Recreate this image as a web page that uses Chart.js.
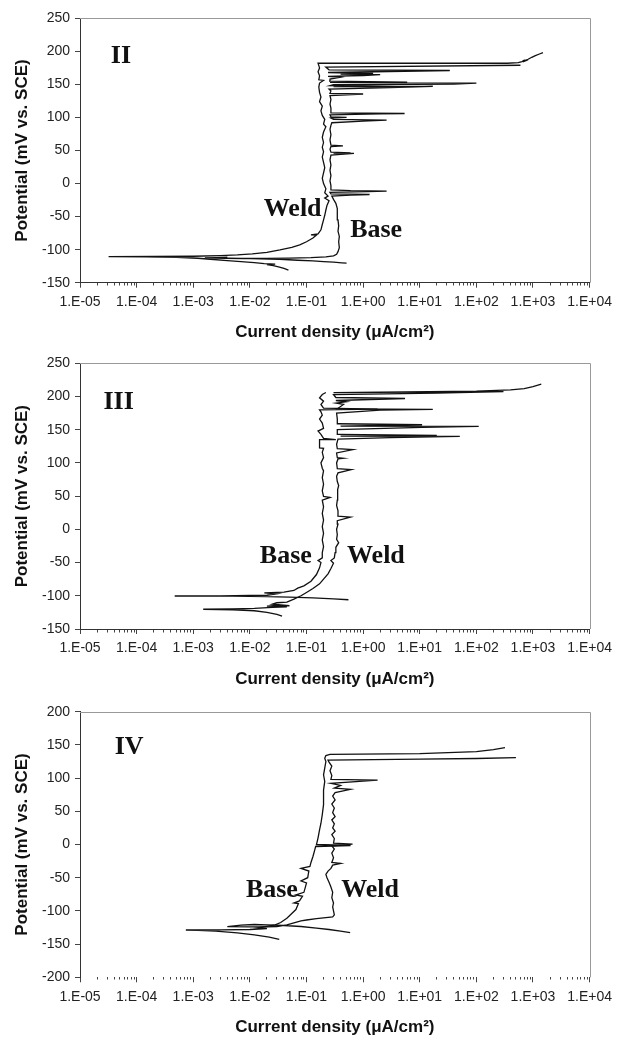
<!DOCTYPE html>
<html>
<head>
<meta charset="utf-8">
<script src="https://cdn.jsdelivr.net/npm/chart.js@4.4.1/dist/chart.umd.min.js"></script>
<style>
  body { margin: 0; background: #fff; }
  canvas { position: absolute; left: 0; }
</style>
</head>
<body>
<canvas id="c2" width="618" height="345" style="top:0px"></canvas>
<canvas id="c3" width="618" height="346" style="top:345px"></canvas>
<canvas id="c4" width="618" height="346" style="top:691px"></canvas>
<script>
// current density (uA/cm2), potential (mV vs SCE)
const decadeLabels = ['1.E-05', '1.E-04', '1.E-03', '1.E-02', '1.E-01', '1.E+00', '1.E+01', '1.E+02', '1.E+03', '1.E+04'];

// panel II
const weldII = [
  [0.048,-131],[0.04,-128.5],[0.032,-126],[0.026,-124],[0.02,-122.5],[0.028,-122],[0.018,-121],[0.012,-119.5],
  [0.007,-118],[0.004,-116.5],[0.002,-114.5],[0.0012,-113],[0.0005,-111.5],[0.00015,-110.8],[0.000032,-110.5],
  [0.0002,-110.4],[0.001,-110],[0.003,-109],[0.006,-108],[0.011,-106.4],[0.02,-104],[0.034,-100.3],[0.055,-96.5],
  [0.076,-92.7],[0.1,-88],[0.13,-82.5],[0.15,-78],[0.12,-77.5],[0.16,-76],[0.18,-70],[0.19,-62],[0.2,-55],
  [0.21,-48],[0.22,-40],[0.23,-33],[0.25,-26],[0.21,-22],[0.24,-19],[0.21,-14],[0.22,-8],[0.2,0],[0.19,8],
  [0.2,16],[0.21,24],[0.2,32],[0.19,40],[0.2,48],[0.19,55],[0.2,62],[0.19,70],[0.2,78],[0.22,86],[0.2,90],
  [0.21,97],[0.19,103],[0.18,110],[0.19,117],[0.17,124],[0.18,131],[0.17,138],[0.165,146],[0.17,152],[0.2,156],
  [0.165,157],[0.17,163],[0.16,169],[0.17,175],[0.16,182],[5,182],[100,182],[350,182],[550,183],[640,184.5],
  [700,186.5],[760,186],[660,184],[820,188],[950,191],[1100,193.5],[1300,196],[1500,198]
];
const baseII = [
  [0.51,-120.5],[0.42,-120],[0.3,-119],[0.2,-118],[0.13,-117],[0.07,-116],[0.034,-114.5],[0.015,-113.8],
  [0.007,-113.2],[0.004,-112.8],[0.0016,-112.3],[0.004,-111.8],[0.0018,-112.6],[0.0035,-113.2],[0.008,-113.4],
  [0.02,-113.2],[0.05,-112.8],[0.12,-112.2],[0.22,-111],[0.3,-109.4],[0.34,-107],[0.36,-103],[0.38,-97],
  [0.37,-88],[0.38,-80],[0.36,-72],[0.37,-64],[0.36,-55],[0.35,-46],[0.35,-38],[0.33,-30],[0.3,-24],[0.28,-19],
  [0.6,-17.5],[1.3,-16.6],[0.27,-15.5],[0.26,-13.5],[1.2,-12.2],[2.6,-11.6],[0.6,-10.8],[0.27,-9.5],[0.27,-3],
  [0.26,4],[0.27,12],[0.26,20],[0.27,28],[0.26,36],[0.27,43],[0.69,45.5],[0.3,46],[0.6,46.5],[0.27,47.5],
  [0.26,52],[0.27,56],[0.44,57],[0.27,58],[0.26,66],[0.27,74],[0.26,82],[0.27,88],[0.28,92],[1.0,94.5],
  [2.6,96],[0.3,97],[0.27,99],[0.51,100],[0.27,101],[0.26,104],[2,105.5],[5.4,106],[0.27,107],[0.27,114],
  [0.26,120],[0.27,127],[0.26,133],[1.0,135.5],[0.26,136.5],[0.27,140],[0.25,143],[3,145],[17,147],[0.3,146.5],
  [8,146.2],[0.26,148],[0.3,149.5],[40,150.5],[100,152],[0.26,153],[6,153.5],[0.25,155],[0.26,158],[0.39,160.8],
  [0.24,162],[1,163.5],[2,164.8],[0.4,165.5],[1.5,166.5],[0.24,168],[34,171],[0.25,172],[0.22,176],[600,179]
];

// panel III
const weldIII = [
  [0.037,-130.5],[0.03,-128],[0.02,-125],[0.012,-122.5],[0.005,-121],[0.0015,-120.3],[0.005,-119.8],[0.012,-119],
  [0.025,-117.5],[0.045,-116.5],[0.02,-115.5],[0.035,-114],[0.05,-115],[0.025,-112.5],[0.03,-110.5],[0.045,-109.5],
  [0.06,-105],[0.08,-100],[0.1,-95],[0.13,-89],[0.17,-82],[0.2,-75],[0.24,-67],[0.27,-59],[0.3,-51],[0.27,-47],
  [0.31,-43],[0.32,-35],[0.33,-27],[0.37,-20],[0.34,-15],[0.35,-8],[0.34,0],[0.36,8],[0.35,13],[0.6,18.5],
  [0.35,20],[0.36,28],[0.34,36],[0.35,44],[0.36,52],[0.35,60],[0.37,66],[0.35,72],[0.34,80],[0.36,85],[0.62,90],
  [0.35,91.5],[0.34,100],[0.36,106],[0.45,107],[0.35,108],[0.34,115],[0.66,120],[0.35,121.5],[0.34,128],
  [0.36,136],[3,138],[51,140],[0.4,140.5],[20,141.5],[0.36,143],[0.35,150],[11,153.5],[110,155],[0.4,155.5],
  [11,157.5],[0.36,159],[0.35,166],[0.34,175],[2,179.5],[17,180.5],[0.35,181.5],[0.45,188],[0.33,190],[0.5,192],
  [0.33,194],[5.5,197],[0.33,198.5],[0.3,203],[20,205],[300,207.5],[0.3,206],[100,208],[400,210],[700,212],
  [1000,215],[1400,218.5]
];
const baseIII = [
  [0.55,-106],[0.3,-104.5],[0.13,-103],[0.05,-102],[0.02,-101.2],[0.005,-100.6],[0.00047,-100.3],[0.003,-100],
  [0.01,-99.6],[0.02,-99.2],[0.03,-97],[0.018,-95.5],[0.04,-94.5],[0.06,-92],[0.07,-88.5],[0.09,-85],[0.12,-78],
  [0.15,-68],[0.17,-58],[0.18,-50],[0.16,-47],[0.19,-43],[0.19,-35],[0.2,-26],[0.19,-16],[0.2,-6],[0.19,4],
  [0.2,14],[0.19,24],[0.2,34],[0.19,44],[0.26,48],[0.2,49.5],[0.19,58],[0.2,68],[0.19,78],[0.2,88],[0.19,92],
  [0.18,100],[0.2,108],[0.19,116],[0.2,122],[0.17,122.5],[0.17,135],[0.33,135],[0.2,137],[0.18,143],[0.16,148],
  [0.2,152],[0.19,160],[0.17,166],[0.19,172],[0.18,177],[0.17,180],[1.8,181],[0.2,182.5],[0.18,188],[0.2,193],
  [0.17,198],[0.19,203],[0.22,206]
];

// panel IV
const weldIV = [
  [0.59,-132.8],[0.4,-130.5],[0.25,-128],[0.15,-126],[0.08,-123.5],[0.04,-122],[0.02,-121],[0.012,-120.5],
  [0.007,-121.5],[0.004,-123.8],[0.01,-124],[0.02,-124.2],[0.03,-123.5],[0.045,-121],[0.06,-118],[0.08,-115],
  [0.1,-113.7],[0.15,-111.5],[0.22,-110],[0.29,-109],[0.31,-106],[0.3,-100],[0.29,-94],[0.3,-88],[0.28,-80],
  [0.29,-72],[0.27,-64],[0.25,-57],[0.23,-50],[0.22,-45],[0.24,-40],[0.27,-36],[0.29,-31],[0.4,-28.5],[0.28,-27],
  [0.3,-20],[0.28,-13],[0.31,-7],[0.28,-2],[0.65,0.5],[0.3,2],[0.31,9],[0.28,15],[0.32,20],[0.29,25],[0.31,31],
  [0.28,37],[0.32,42],[0.29,48],[0.31,55],[0.28,61],[0.32,67],[0.29,73],[0.32,78],[0.6,83],[0.31,85],[0.4,89],
  [0.27,92],[1.8,97],[0.27,98],[0.28,104],[0.26,111],[0.28,118],[0.25,124],[0.24,127],[10,128.5],[100,129.5],
  [500,130.7]
];
const baseIV = [
  [0.033,-142.8],[0.022,-139.5],[0.012,-136],[0.006,-133],[0.0025,-130.5],[0.0012,-129.3],[0.00074,-128.8],
  [0.003,-128.6],[0.01,-128],[0.02,-126.5],[0.014,-125.5],[0.028,-121],[0.035,-117.5],[0.045,-111],[0.055,-104],
  [0.065,-98],[0.072,-89],[0.06,-88],[0.075,-85],[0.085,-78],[0.065,-76],[0.09,-72],[0.095,-65],[0.1,-58],
  [0.08,-55],[0.105,-50],[0.11,-40],[0.08,-36],[0.115,-33],[0.12,-27],[0.13,-18],[0.14,-8],[0.145,-3],[0.6,-1.5],
  [0.15,0],[0.16,10],[0.17,22],[0.18,32],[0.19,45],[0.2,60],[0.2,82],[0.21,95],[0.2,105],[0.21,115],[0.22,125],
  [0.21,130],[0.22,134],[0.26,135.8],[10,137],[100,140],[200,143],[320,146]
];

// text labels, placed in data units
const notesII = [
  {text: 'II', x: 3.5e-5, y: 182, size: 26},
  {text: 'Weld', x: 0.0176, y: -49, size: 26},
  {text: 'Base', x: 0.59, y: -81, size: 26}
];
const notesIII = [
  {text: 'III', x: 2.6e-5, y: 181, size: 26},
  {text: 'Base', x: 0.015, y: -51, size: 26},
  {text: 'Weld', x: 0.52, y: -51, size: 26}
];
const notesIV = [
  {text: 'IV', x: 4.1e-5, y: 136, size: 26},
  {text: 'Base', x: 0.0085, y: -79, size: 26},
  {text: 'Weld', x: 0.41, y: -79, size: 26}
];

const tickValues = [];
for (let e = -5; e < 4; e++) {
  for (let k = 1; k < 10; k++) tickValues.push(k * Math.pow(10, e));
}
tickValues.push(1e4);

function isDecade(v) {
  const l = Math.log10(v);
  return Math.abs(l - Math.round(l)) < 1e-6;
}

const framePlugin = {
  id: 'frame',
  afterDraw(chart, args, opts) {
    const {ctx, chartArea: a, scales} = chart;
    ctx.save();
    ctx.strokeStyle = '#999';
    ctx.lineWidth = 1;
    ctx.beginPath();
    ctx.moveTo(a.left, Math.round(a.top) + 0.5);
    ctx.lineTo(Math.round(a.right) + 0.5, Math.round(a.top) + 0.5);
    ctx.lineTo(Math.round(a.right) + 0.5, a.bottom);
    ctx.stroke();
    ctx.fillStyle = '#111';
    ctx.textAlign = 'left';
    ctx.textBaseline = 'alphabetic';
    opts.notes.forEach(n => {
      ctx.font = 'bold ' + n.size + 'px "Liberation Serif", "Times New Roman", serif';
      ctx.fillText(n.text, scales.x.getPixelForValue(n.x), scales.y.getPixelForValue(n.y));
    });
    ctx.restore();
  }
};

function makePanel(id, weld, base, yMin, yMax, notes, padTop, xHeight, bottomLine) {
  const line = pts => ({
    data: pts.map(p => ({x: p[0], y: p[1]})),
    showLine: true,
    pointRadius: 0,
    borderColor: '#111',
    borderWidth: 1.3,
    tension: 0
  });
  return new Chart(document.getElementById(id), {
    type: 'scatter',
    data: { datasets: [line(weld), line(base)] },
    options: {
      responsive: false,
      animation: false,
      devicePixelRatio: 1,
      layout: { padding: { top: padTop, right: 25, left: 0, bottom: 0 } },
      plugins: {
        legend: { display: false },
        tooltip: { enabled: false },
        frame: { notes: notes }
      },
      scales: {
        x: {
          type: 'logarithmic',
          min: 1e-5,
          max: 1e4,
          afterBuildTicks: s => { s.ticks = tickValues.map(v => ({value: v})); },
          afterFit: s => { s.height = xHeight; },
          ticks: {
            autoSkip: false,
            maxRotation: 0,
            minRotation: 0,
            padding: 6,
            color: '#222',
            font: { family: 'Liberation Sans', size: 14 },
            callback: v => isDecade(v) ? decadeLabels[Math.round(Math.log10(v)) + 5] : ''
          },
          grid: {
            drawOnChartArea: false,
            drawTicks: true,
            tickLength: 5,
            tickColor: '#444',
            tickBorderDash: c => (c.tick && isDecade(c.tick.value)) ? [] : [2.5, 10]
          },
          border: { display: bottomLine, color: '#333', width: 1 },
          title: {
            display: true,
            text: 'Current density (μA/cm²)',
            color: '#111',
            font: { family: 'Liberation Sans', size: 17, weight: 'bold' },
            padding: { top: 0, bottom: xHeight - 60.2 }
          }
        },
        y: {
          min: yMin,
          max: yMax,
          afterFit: s => { s.width = 80; },
          ticks: {
            stepSize: 50,
            padding: 5,
            color: '#222',
            font: { family: 'Liberation Sans', size: 14 }
          },
          grid: {
            drawOnChartArea: false,
            drawTicks: true,
            tickLength: 5,
            tickColor: '#444'
          },
          border: { color: '#333', width: 1 },
          title: {
            display: true,
            text: 'Potential (mV vs. SCE)',
            color: '#111',
            font: { family: 'Liberation Sans', size: 17, weight: 'bold' },
            padding: { top: 12, bottom: 0 }
          }
        }
      }
    },
    plugins: [framePlugin]
  });
}

makePanel('c2', weldII, baseII, -150, 250, notesII, 18.3, 62.3, true);
makePanel('c3', weldIII, baseIII, -150, 250, notesIII, 18.3, 62, true);
makePanel('c4', weldIV, baseIV, -200, 200, notesIV, 20.7, 59.7, false);
</script>
</body>
</html>
